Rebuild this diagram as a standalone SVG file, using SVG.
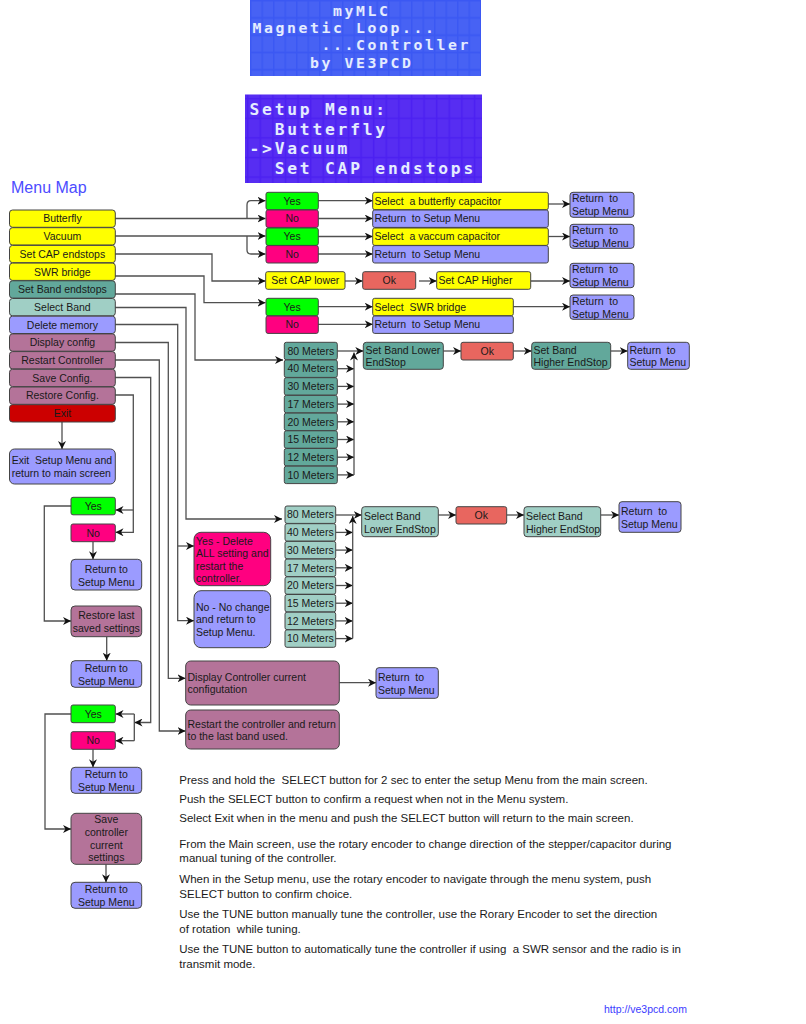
<svg xmlns="http://www.w3.org/2000/svg" width="806" height="1024" viewBox="0 0 806 1024">
<style>
.n rect{stroke:#444;stroke-width:1;}
.t{font-family:"Liberation Sans",Arial,sans-serif;font-size:10.5px;fill:#1a1a1a;}
.c{text-anchor:middle;}
.yel{fill:#ffff00}.grn{fill:#00ff00}.pnk{fill:#ff0080}.pur{fill:#9b9bff}.mau{fill:#b47399}.tea{fill:#62a89b}.ltea{fill:#a0cfc5}.red{fill:#cc0000}.ok{fill:#e8665f}
.lcd{font-family:"DejaVu Sans Mono",monospace;font-weight:bold;fill:#e4ecff;}
.l1{font-size:14.8px;letter-spacing:2.59px;}
.l2{font-size:16.3px;letter-spacing:2.78px;}
.note{font-family:"Liberation Sans",Arial,sans-serif;font-size:11.5px;fill:#1a1a1a;}
#connectors path{fill:none;stroke:#505050;stroke-width:1.3;}
</style>
<defs>
<marker id="ah" viewBox="0 0 10 10" refX="10" refY="5" markerWidth="8" markerHeight="8" orient="auto" markerUnits="userSpaceOnUse">
<path d="M0,0 L10,5 L0,10 L3,5 z" fill="#111"/>
</marker>
<pattern id="cell1" x="251" y="1" width="11.5" height="17.3" patternUnits="userSpaceOnUse">
<rect x="0.5" y="0.5" width="10" height="15.5" fill="#ffffff" fill-opacity="0.06"/>
</pattern>
<pattern id="cell2" x="248" y="99" width="12.6" height="19.6" patternUnits="userSpaceOnUse">
<rect x="0.5" y="0.5" width="11" height="18" fill="#ffffff" fill-opacity="0.06"/>
</pattern>
</defs>
<rect width="806" height="1024" fill="#ffffff"/>

<!-- LCD screens -->
<g id="lcd1">
<rect x="250" y="0" width="231" height="76" fill="#3b58f3"/>
<rect x="250" y="0" width="231" height="76" fill="url(#cell1)"/>
<text class="lcd l1" x="333" y="16">myMLC</text>
<text class="lcd l1" x="252.5" y="33">Magnetic Loop...</text>
<text class="lcd l1" x="321.5" y="50.3">...Controller</text>
<text class="lcd l1" x="310" y="67.6">by VE3PCD</text>
</g>
<g id="lcd2">
<rect x="245" y="94.5" width="237" height="88.5" fill="#4c20f1"/>
<rect x="245" y="94.5" width="237" height="88.5" fill="url(#cell2)"/>
<text class="lcd l2" x="249.5" y="115">Setup Menu:</text>
<text class="lcd l2" x="274.7" y="134.5">Butterfly</text>
<text class="lcd l2" x="249.5" y="154">-&gt;Vacuum</text>
<text class="lcd l2" x="274.7" y="173.5">Set CAP endstops</text>
</g>

<text x="11" y="193" font-family="'Liberation Sans',Arial,sans-serif" font-size="16" fill="#4c4cff">Menu Map</text>

<!-- Connectors -->
<g id="connectors">
<path d="M115,218.5 H265.5" marker-end="url(#ah)"/>
<path d="M247,218.5 V205 Q247,200.7 251,200.7 H265.5" marker-end="url(#ah)"/>
<path d="M115,236 H265.5" marker-end="url(#ah)"/>
<path d="M247,236 V250 Q247,254 251,254 H265.5" marker-end="url(#ah)"/>
<path d="M115,254 H212 V281 H265.5" marker-end="url(#ah)"/>
<path d="M115,276 H204 V302.7 H265.5" marker-end="url(#ah)"/>
<path d="M115,294 H195 V360 H283" marker-end="url(#ah)"/>
<path d="M115,307.5 H186 V519 H282" marker-end="url(#ah)"/>
<path d="M115,324.5 H177.7 V620.7 H194" marker-end="url(#ah)"/>
<path d="M177.7,546 H194" marker-end="url(#ah)"/>
<path d="M115,342.5 H168.3 V678.3 H185.5" marker-end="url(#ah)"/>
<path d="M115,360 H159.3 V731 H185.5" marker-end="url(#ah)"/>
<path d="M115,377.5 H150.7 V722.5 H134.5" marker-end="url(#ah)"/>
<path d="M134.3,714 V740.7"/>
<path d="M134.3,714 H115.5" marker-end="url(#ah)"/>
<path d="M134.3,740.7 H115.5" marker-end="url(#ah)"/>
<path d="M115,395 H133.3 V532.3 H115.5" marker-end="url(#ah)"/>
<path d="M133.3,510 H115.5" marker-end="url(#ah)"/>
<path d="M62,422 V449" marker-end="url(#ah)"/>
<path d="M71,506 H44.3 V621 H71" marker-end="url(#ah)"/>
<path d="M93,541.7 V559.3" marker-end="url(#ah)"/>
<path d="M106.7,636.7 V660.7" marker-end="url(#ah)"/>
<path d="M71,714 H45 V829 H71" marker-end="url(#ah)"/>
<path d="M93,749.3 V767.3" marker-end="url(#ah)"/>
<path d="M106,864.3 V882.3" marker-end="url(#ah)"/>
<!-- top right -->
<path d="M318,200.7 H372.7" marker-end="url(#ah)"/>
<path d="M318,218.5 H372.7" marker-end="url(#ah)"/>
<path d="M318,236.5 H372.7" marker-end="url(#ah)"/>
<path d="M318,254 H372.7" marker-end="url(#ah)"/>
<path d="M548.3,204 H570" marker-end="url(#ah)"/>
<path d="M548.3,236.5 H570" marker-end="url(#ah)"/>
<path d="M345,281 H362.7" marker-end="url(#ah)"/>
<path d="M419,281 H436.7" marker-end="url(#ah)"/>
<path d="M530.7,281 H570" marker-end="url(#ah)"/>
<path d="M318,306.7 H372.7" marker-end="url(#ah)"/>
<path d="M318,324.3 H372.7" marker-end="url(#ah)"/>
<path d="M513.3,306.7 H570" marker-end="url(#ah)"/>
<!-- band list 1 -->
<path d="M337.3,368.7 H354" marker-end="url(#ah)"/>
<path d="M337.3,386.4 H354" marker-end="url(#ah)"/>
<path d="M337.3,404.1 H354" marker-end="url(#ah)"/>
<path d="M337.3,421.8 H354" marker-end="url(#ah)"/>
<path d="M337.3,439.5 H354" marker-end="url(#ah)"/>
<path d="M337.3,457.2 H354" marker-end="url(#ah)"/>
<path d="M337.3,474.9 H354" marker-end="url(#ah)"/>
<path d="M354,474.9 V352.5" marker-end="url(#ah)"/>
<path d="M337.3,351 H363.3" marker-end="url(#ah)"/>
<path d="M443.3,351 H461" marker-end="url(#ah)"/>
<path d="M513.3,351 H531.7" marker-end="url(#ah)"/>
<path d="M610.7,351 H627.7" marker-end="url(#ah)"/>
<!-- band list 2 -->
<path d="M335.7,532.4 H352.7" marker-end="url(#ah)"/>
<path d="M335.7,550.1 H352.7" marker-end="url(#ah)"/>
<path d="M335.7,567.8 H352.7" marker-end="url(#ah)"/>
<path d="M335.7,585.5 H352.7" marker-end="url(#ah)"/>
<path d="M335.7,603.2 H352.7" marker-end="url(#ah)"/>
<path d="M335.7,620.9 H352.7" marker-end="url(#ah)"/>
<path d="M335.7,638.6 H352.7" marker-end="url(#ah)"/>
<path d="M352.7,638.6 V516" marker-end="url(#ah)"/>
<path d="M335.7,515 H361.7" marker-end="url(#ah)"/>
<path d="M438.3,515 H456" marker-end="url(#ah)"/>
<path d="M506.7,515 H524" marker-end="url(#ah)"/>
<path d="M600.7,515 H619" marker-end="url(#ah)"/>
<path d="M339.3,682.7 H376" marker-end="url(#ah)"/>
</g>

<!-- Main menu column -->
<g id="m-butterfly" class="n"><rect class="yel" x="9.5" y="210" width="105.8" height="17.3" rx="3"/><text class="t c" x="62.4" y="222.4">Butterfly</text></g>
<g id="m-vacuum" class="n"><rect class="yel" x="9.5" y="227.7" width="105.8" height="17.3" rx="3"/><text class="t c" x="62.4" y="240.1">Vacuum</text></g>
<g id="m-setcap" class="n"><rect class="yel" x="9.5" y="245.4" width="105.8" height="17.3" rx="3"/><text class="t c" x="62.4" y="257.8">Set CAP endstops</text></g>
<g id="m-swr" class="n"><rect class="yel" x="9.5" y="263.1" width="105.8" height="17.3" rx="3"/><text class="t c" x="62.4" y="275.5">SWR bridge</text></g>
<g id="m-setband" class="n"><rect class="tea" x="9.5" y="280.8" width="105.8" height="17.3" rx="3"/><text class="t c" x="62.4" y="293.2">Set Band endstops</text></g>
<g id="m-selectband" class="n"><rect class="ltea" x="9.5" y="298.5" width="105.8" height="17.3" rx="3"/><text class="t c" x="62.4" y="310.9">Select Band</text></g>
<g id="m-delete" class="n"><rect class="pur" x="9.5" y="316.2" width="105.8" height="17.3" rx="3"/><text class="t c" x="62.4" y="328.6">Delete memory</text></g>
<g id="m-display" class="n"><rect class="mau" x="9.5" y="333.9" width="105.8" height="17.3" rx="3"/><text class="t c" x="62.4" y="346.3">Display config</text></g>
<g id="m-restart" class="n"><rect class="mau" x="9.5" y="351.6" width="105.8" height="17.3" rx="3"/><text class="t c" x="62.4" y="364">Restart Controller</text></g>
<g id="m-save" class="n"><rect class="mau" x="9.5" y="369.3" width="105.8" height="17.3" rx="3"/><text class="t c" x="62.4" y="381.7">Save Config.</text></g>
<g id="m-restore" class="n"><rect class="mau" x="9.5" y="387" width="105.8" height="17.3" rx="3"/><text class="t c" x="62.4" y="399.4">Restore Config.</text></g>
<g id="m-exit" class="n"><rect class="red" x="9.5" y="404.7" width="105.8" height="17.3" rx="3"/><text class="t c" x="62.4" y="417.1">Exit</text></g>

<g id="exit-msg" class="n"><rect class="pur" x="9.5" y="449" width="105.8" height="35" rx="5"/><text class="t" x="11.7" y="463.8" xml:space="preserve">Exit  Setup Menu and</text><text class="t" x="11.7" y="477">return to main screen</text></g>

<!-- Restore block -->
<g id="r-yes" class="n"><rect class="grn" x="71" y="497.3" width="44.3" height="17.5" rx="2"/><text class="t c" x="93.2" y="509.8">Yes</text></g>
<g id="r-no" class="n"><rect class="pnk" x="71" y="524" width="44.3" height="17.7" rx="2"/><text class="t c" x="93.2" y="536.6">No</text></g>
<g id="r-ret1" class="n"><rect class="pur" x="71" y="559.3" width="70.7" height="30.7" rx="4"/><text class="t c" x="106.3" y="572.8">Return to</text><text class="t c" x="106.3" y="586">Setup Menu</text></g>
<g id="r-last" class="n"><rect class="mau" x="71" y="606" width="70.7" height="30.7" rx="4"/><text class="t c" x="106.3" y="618.8">Restore last</text><text class="t c" x="106.3" y="632">saved settings</text></g>
<g id="r-ret2" class="n"><rect class="pur" x="71" y="660.7" width="70.7" height="26.6" rx="4"/><text class="t c" x="106.3" y="671.8">Return to</text><text class="t c" x="106.3" y="685">Setup Menu</text></g>

<!-- Save block -->
<g id="s-yes" class="n"><rect class="grn" x="71" y="705" width="44.3" height="17.7" rx="2"/><text class="t c" x="93.2" y="717.6">Yes</text></g>
<g id="s-no" class="n"><rect class="pnk" x="71" y="731.7" width="44.3" height="17.6" rx="2"/><text class="t c" x="93.2" y="744.3">No</text></g>
<g id="s-ret1" class="n"><rect class="pur" x="71" y="767.3" width="70.7" height="26" rx="4"/><text class="t c" x="106.3" y="777.8">Return to</text><text class="t c" x="106.3" y="791">Setup Menu</text></g>
<g id="s-save" class="n"><rect class="mau" x="71" y="813.3" width="70.7" height="51" rx="5"/><text class="t c" x="106.3" y="823">Save</text><text class="t c" x="106.3" y="836">controller</text><text class="t c" x="106.3" y="849">current</text><text class="t c" x="106.3" y="861">settings</text></g>
<g id="s-ret2" class="n"><rect class="pur" x="71" y="882.3" width="70.7" height="26" rx="4"/><text class="t c" x="106.3" y="892.8">Return to</text><text class="t c" x="106.3" y="906">Setup Menu</text></g>

<!-- Top right: Butterfly / Vacuum -->
<g id="b-yes" class="n"><rect class="grn" x="266" y="192.3" width="52.3" height="17.4" rx="2"/><text class="t c" x="292.1" y="204.7">Yes</text></g>
<g id="b-no" class="n"><rect class="pnk" x="266" y="210" width="52.3" height="17.4" rx="2"/><text class="t c" x="292.1" y="222.4">No</text></g>
<g id="v-yes" class="n"><rect class="grn" x="266" y="228" width="52.3" height="17.4" rx="2"/><text class="t c" x="292.1" y="240.4">Yes</text></g>
<g id="v-no" class="n"><rect class="pnk" x="266" y="245.6" width="52.3" height="17.4" rx="2"/><text class="t c" x="292.1" y="258">No</text></g>
<g id="b-select" class="n"><rect class="yel" x="372.7" y="192.3" width="175.6" height="17.4" rx="2"/><text class="t" x="374.5" y="204.5" xml:space="preserve">Select  a butterfly capacitor</text></g>
<g id="b-ret" class="n"><rect class="pur" x="372.7" y="210" width="175.6" height="17.4" rx="2"/><text class="t" x="374.5" y="222.2" xml:space="preserve">Return  to Setup Menu</text></g>
<g id="v-select" class="n"><rect class="yel" x="372.7" y="228" width="175.6" height="17.4" rx="2"/><text class="t" x="374.5" y="240.2" xml:space="preserve">Select  a vaccum capacitor</text></g>
<g id="v-ret" class="n"><rect class="pur" x="372.7" y="245.6" width="175.6" height="17.4" rx="2"/><text class="t" x="374.5" y="257.8" xml:space="preserve">Return  to Setup Menu</text></g>
<g id="b-ret2" class="n"><rect class="pur" x="570" y="192.3" width="64" height="25" rx="3"/><text class="t" x="572" y="202" xml:space="preserve">Return  to</text><text class="t" x="572" y="215">Setup Menu</text></g>
<g id="v-ret2" class="n"><rect class="pur" x="570" y="224.3" width="64" height="24" rx="3"/><text class="t" x="572" y="234" xml:space="preserve">Return  to</text><text class="t" x="572" y="247">Setup Menu</text></g>

<!-- Set CAP endstops -->
<g id="c-lower" class="n"><rect class="yel" x="265.7" y="271.7" width="79.3" height="17.6" rx="2"/><text class="t c" x="305.3" y="284.2">Set CAP lower</text></g>
<g id="c-ok" class="n"><rect class="ok" x="362.7" y="271.7" width="53" height="17.6" rx="2"/><text class="t c" x="389.2" y="284.2">Ok</text></g>
<g id="c-higher" class="n"><rect class="yel" x="436.7" y="271.7" width="94" height="17.6" rx="2"/><text class="t" x="438.5" y="284.2">Set CAP Higher</text></g>
<g id="c-ret" class="n"><rect class="pur" x="570" y="263.3" width="64" height="24.4" rx="3"/><text class="t" x="572" y="273" xml:space="preserve">Return  to</text><text class="t" x="572" y="286">Setup Menu</text></g>

<!-- SWR bridge -->
<g id="w-yes" class="n"><rect class="grn" x="266" y="298.3" width="52.3" height="17.4" rx="2"/><text class="t c" x="292.1" y="310.7">Yes</text></g>
<g id="w-no" class="n"><rect class="pnk" x="266" y="316" width="52.3" height="17.4" rx="2"/><text class="t c" x="292.1" y="328.4">No</text></g>
<g id="w-select" class="n"><rect class="yel" x="372.7" y="298.3" width="140.6" height="17.4" rx="2"/><text class="t" x="374.5" y="310.5" xml:space="preserve">Select  SWR bridge</text></g>
<g id="w-ret" class="n"><rect class="pur" x="372.7" y="316" width="140.6" height="17.4" rx="2"/><text class="t" x="374.5" y="328.2" xml:space="preserve">Return  to Setup Menu</text></g>
<g id="w-ret2" class="n"><rect class="pur" x="570" y="295" width="64" height="24.3" rx="3"/><text class="t" x="572" y="305" xml:space="preserve">Return  to</text><text class="t" x="572" y="318">Setup Menu</text></g>

<!-- Band list 1 (Set Band endstops) -->
<g id="e-80" class="n"><rect class="tea" x="284.3" y="342.3" width="53" height="17.4" rx="2"/><text class="t c" x="310.8" y="354.7">80 Meters</text></g>
<g id="e-40" class="n"><rect class="tea" x="284.3" y="360" width="53" height="17.4" rx="2"/><text class="t c" x="310.8" y="372.4">40 Meters</text></g>
<g id="e-30" class="n"><rect class="tea" x="284.3" y="377.7" width="53" height="17.4" rx="2"/><text class="t c" x="310.8" y="390.1">30 Meters</text></g>
<g id="e-17" class="n"><rect class="tea" x="284.3" y="395.4" width="53" height="17.4" rx="2"/><text class="t c" x="310.8" y="407.8">17 Meters</text></g>
<g id="e-20" class="n"><rect class="tea" x="284.3" y="413.1" width="53" height="17.4" rx="2"/><text class="t c" x="310.8" y="425.5">20 Meters</text></g>
<g id="e-15" class="n"><rect class="tea" x="284.3" y="430.8" width="53" height="17.4" rx="2"/><text class="t c" x="310.8" y="443.2">15 Meters</text></g>
<g id="e-12" class="n"><rect class="tea" x="284.3" y="448.5" width="53" height="17.4" rx="2"/><text class="t c" x="310.8" y="460.9">12 Meters</text></g>
<g id="e-10" class="n"><rect class="tea" x="284.3" y="466.2" width="53" height="17.4" rx="2"/><text class="t c" x="310.8" y="478.6">10 Meters</text></g>
<g id="e-lower" class="n"><rect class="tea" x="363.3" y="342.3" width="80" height="27" rx="3"/><text class="t" x="365.5" y="353.7">Set Band Lower</text><text class="t" x="365.5" y="366.4">EndStop</text></g>
<g id="e-ok" class="n"><rect class="ok" x="461" y="342.3" width="52.3" height="17.7" rx="2"/><text class="t c" x="487.2" y="354.8">Ok</text></g>
<g id="e-higher" class="n"><rect class="tea" x="531.7" y="342.3" width="79" height="27" rx="3"/><text class="t" x="533.5" y="353.7">Set Band</text><text class="t" x="533.5" y="366.4">Higher EndStop</text></g>
<g id="e-ret" class="n"><rect class="pur" x="627.7" y="342.3" width="61.6" height="27" rx="3"/><text class="t" x="629.5" y="353.7" xml:space="preserve">Return  to</text><text class="t" x="629.5" y="366.4">Setup Menu</text></g>

<!-- Band list 2 (Select Band) -->
<g id="s-80" class="n"><rect class="ltea" x="285" y="506" width="50.7" height="17.4" rx="2"/><text class="t c" x="310.3" y="518.4">80 Meters</text></g>
<g id="s-40" class="n"><rect class="ltea" x="285" y="523.7" width="50.7" height="17.4" rx="2"/><text class="t c" x="310.3" y="536.1">40 Meters</text></g>
<g id="s-30" class="n"><rect class="ltea" x="285" y="541.4" width="50.7" height="17.4" rx="2"/><text class="t c" x="310.3" y="553.8">30 Meters</text></g>
<g id="s-17" class="n"><rect class="ltea" x="285" y="559.1" width="50.7" height="17.4" rx="2"/><text class="t c" x="310.3" y="571.5">17 Meters</text></g>
<g id="s-20" class="n"><rect class="ltea" x="285" y="576.8" width="50.7" height="17.4" rx="2"/><text class="t c" x="310.3" y="589.2">20 Meters</text></g>
<g id="s-15" class="n"><rect class="ltea" x="285" y="594.5" width="50.7" height="17.4" rx="2"/><text class="t c" x="310.3" y="606.9">15 Meters</text></g>
<g id="s-12" class="n"><rect class="ltea" x="285" y="612.2" width="50.7" height="17.4" rx="2"/><text class="t c" x="310.3" y="624.6">12 Meters</text></g>
<g id="s-10" class="n"><rect class="ltea" x="285" y="629.9" width="50.7" height="17.4" rx="2"/><text class="t c" x="310.3" y="642.3">10 Meters</text></g>
<g id="s-lower" class="n"><rect class="ltea" x="361.7" y="506.7" width="76.6" height="30" rx="3"/><text class="t" x="364" y="519.5">Select Band</text><text class="t" x="364" y="532.8">Lower EndStop</text></g>
<g id="s-ok" class="n"><rect class="ok" x="456" y="506.7" width="50.7" height="17.3" rx="2"/><text class="t c" x="481.3" y="519">Ok</text></g>
<g id="s-higher" class="n"><rect class="ltea" x="524" y="506.7" width="76.7" height="30" rx="3"/><text class="t" x="526" y="519.5">Select Band</text><text class="t" x="526" y="532.8">Higher EndStop</text></g>
<g id="s-ret" class="n"><rect class="pur" x="619" y="501.7" width="62" height="30.6" rx="3"/><text class="t" x="621" y="514.8" xml:space="preserve">Return  to</text><text class="t" x="621" y="528">Setup Menu</text></g>

<!-- Delete memory -->
<g id="d-yes" class="n"><rect class="pnk" x="194" y="532.3" width="76.7" height="53.4" rx="7"/><text class="t" x="196" y="544.5">Yes - Delete</text><text class="t" x="196" y="557">ALL setting and</text><text class="t" x="196" y="570">restart the</text><text class="t" x="196" y="582">controller.</text></g>
<g id="d-no" class="n"><rect class="pur" x="194" y="590.7" width="76.7" height="57" rx="7"/><text class="t" x="196" y="610.5">No - No change</text><text class="t" x="196" y="623">and return to</text><text class="t" x="196" y="636">Setup Menu.</text></g>

<!-- Display config -->
<g id="dc-box" class="n"><rect class="mau" x="185.7" y="661" width="153.6" height="44" rx="5"/><text class="t" x="187.5" y="680.5">Display Controller current</text><text class="t" x="187.5" y="693">configutation</text></g>
<g id="dc-ret" class="n"><rect class="pur" x="376" y="667.7" width="62.3" height="30.6" rx="3"/><text class="t" x="378" y="680.5" xml:space="preserve">Return  to</text><text class="t" x="378" y="693.7">Setup Menu</text></g>

<!-- Restart controller -->
<g id="rc-box" class="n"><rect class="mau" x="185.7" y="710" width="153.6" height="39" rx="5"/><text class="t" x="187.5" y="727.8">Restart the controller and return</text><text class="t" x="187.5" y="739.7">to the last band used.</text></g>

<!-- Notes -->
<g id="notes">
<text class="note" x="179.3" y="784" xml:space="preserve">Press and hold the  SELECT button for 2 sec to enter the setup Menu from the main screen.</text>
<text class="note" x="179.3" y="803.3">Push the SELECT button to confirm a request when not in the Menu system.</text>
<text class="note" x="179.3" y="822.3">Select Exit when in the menu and push the SELECT button will return to the main screen.</text>
<text class="note" x="179.3" y="848.3">From the Main screen, use the rotary encoder to change direction of the stepper/capacitor during</text>
<text class="note" x="179.3" y="862.3">manual tuning of the controller.</text>
<text class="note" x="179.3" y="883.3">When in the Setup menu, use the rotary encoder to navigate through the menu system, push</text>
<text class="note" x="179.3" y="897.7">SELECT button to confirm choice.</text>
<text class="note" x="179.3" y="918.3">Use the TUNE button manually tune the controller, use the Rorary Encoder to set the direction</text>
<text class="note" x="179.3" y="933.3" xml:space="preserve">of rotation  while tuning.</text>
<text class="note" x="179.3" y="953.3" xml:space="preserve">Use the TUNE button to automatically tune the controller if using  a SWR sensor and the radio is in</text>
<text class="note" x="179.3" y="968.3">transmit mode.</text>
<text x="604" y="1013" font-family="'Liberation Sans',Arial,sans-serif" font-size="10.5" fill="#3b3bff">http://ve3pcd.com</text>
</g>
</svg>
